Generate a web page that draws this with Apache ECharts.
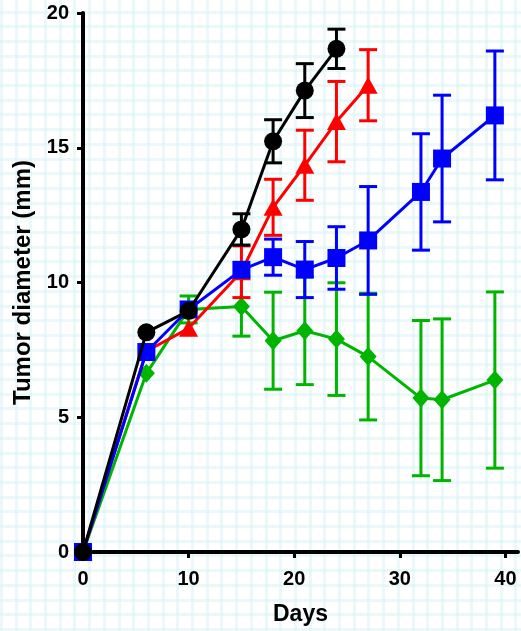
<!DOCTYPE html>
<html>
<head>
<meta charset="utf-8">
<script src="https://cdn.jsdelivr.net/npm/echarts@6/dist/echarts.min.js"></script>
<style>
  html, body {
    margin: 0;
    padding: 0;
    background-color: #fff;
    background-image:
      repeating-linear-gradient(0deg, rgba(214, 242, 246, 0.5) 0 3px, transparent 3px 14.7px),
      repeating-linear-gradient(90deg, rgba(214, 242, 246, 0.5) 0 3px, transparent 3px 14.7px);
  }
  #chart { width: 521px; height: 631px; }
</style>
</head>
<body>
<div id="chart"></div>
<script>
// 天数 / 均值 / 误差
const blackDays = [0, 6, 10, 15, 18, 21, 24];
const blackMean = [0, 8.15, 8.95, 11.97, 15.24, 17.12, 18.67];
const blackErr = [0, 0, 0, 0.58, 0.8, 1.0, 0.73];

const redDays = [0, 6, 10, 15, 18, 21, 24, 27];
const redMean = [0, 7.45, 8.3, 10.4, 12.79, 14.35, 15.97, 17.32];
const redErr = [0, 0, 0, 0.96, 1.04, 1.3, 1.49, 1.32];

const blueDays = [0, 6, 10, 15, 18, 21, 24, 27, 32, 34, 39];
const blueMean = [0, 7.42, 9.0, 10.47, 10.94, 10.48, 10.91, 11.56, 13.36, 14.6, 16.2];
const blueErr = [0, 0, 0, 0, 0.67, 1.04, 1.16, 2.0, 2.16, 2.35, 2.39];

const greenDays = [0, 6, 10, 15, 18, 21, 24, 27, 32, 34, 39];
const greenMean = [0, 6.63, 9.0, 9.11, 7.84, 8.21, 7.9, 7.25, 5.71, 5.65, 6.38];
const greenErr = [0, 0, 0.5, 1.1, 1.8, 2.0, 2.09, 2.35, 2.88, 3.0, 3.27];

const xTicks = [0, 10, 20, 30, 40];

const FONT = "'Liberation Sans', Arial, sans-serif";

const chart = echarts.init(document.getElementById("chart"));

// 误差线：竖线 + 上下横帽
function errorSeries(days, mean, err, color, z) {
  return {
    type: "custom",
    z: z,
    silent: true,
    clip: false,
    data: days
      .map((d, i) => [d, mean[i] - err[i], mean[i] + err[i]])
      .filter((item) => item[2] > item[1]),
    encode: { x: 0, y: [1, 2] },
    renderItem: function (params, api) {
      const low = api.coord([api.value(0), api.value(1)]);
      const high = api.coord([api.value(0), api.value(2)]);
      const half = 9;
      const style = { stroke: color, lineWidth: 3 };
      return {
        type: "group",
        children: [
          { type: "line", shape: { x1: low[0], y1: low[1], x2: high[0], y2: high[1] }, style: style },
          { type: "line", shape: { x1: low[0] - half, y1: low[1], x2: low[0] + half, y2: low[1] }, style: style },
          { type: "line", shape: { x1: high[0] - half, y1: high[1], x2: high[0] + half, y2: high[1] }, style: style },
        ],
      };
    },
  };
}

function lineSeries(days, mean, color, symbol, size, z) {
  return {
    type: "line",
    z: z,
    clip: false,
    data: days.map((d, i) => [d, mean[i]]),
    symbol: symbol,
    symbolSize: size,
    showSymbol: true,
    lineStyle: { color: color, width: 3 },
    itemStyle: { color: color, opacity: 1 },
    emphasis: { disabled: true },
    animation: false,
  };
}

const option = {
  animation: false,
  grid: {
    left: 83,
    top: 13,
    width: 435,
    height: 540,
  },
  xAxis: {
    type: "value",
    min: 0,
    max: 41.19,
    interval: 10,
    name: "Days",
    nameLocation: "middle",
    nameGap: 51,
    nameTextStyle: { color: "#000", fontSize: 23, fontWeight: "bold", fontFamily: FONT },
    axisLine: { show: true, onZero: false, lineStyle: { color: "#000", width: 4 } },
    axisTick: { show: true, length: 6, lineStyle: { color: "#000", width: 3 }, customValues: xTicks },
    axisLabel: {
      color: "#000",
      fontSize: 20,
      fontWeight: "bold",
      fontFamily: FONT,
      margin: 17,
      customValues: xTicks,
    },
    splitLine: { show: false },
  },
  yAxis: {
    type: "value",
    min: 0,
    max: 20,
    interval: 5,
    name: "Tumor diameter (mm)",
    nameLocation: "middle",
    nameGap: 42,
    nameTextStyle: { color: "#000", fontSize: 24, fontWeight: "bold", fontFamily: FONT },
    axisLine: { show: true, onZero: false, lineStyle: { color: "#000", width: 4 } },
    axisTick: { show: true, length: 6, lineStyle: { color: "#000", width: 3 } },
    axisLabel: {
      color: "#000",
      fontSize: 20,
      fontWeight: "bold",
      fontFamily: FONT,
      margin: 14,
    },
    splitLine: { show: false },
  },
  series: [
    errorSeries(greenDays, greenMean, greenErr, "#00b400", 2),
    lineSeries(greenDays, greenMean, "#00b400", "diamond", [17, 19], 3),
    errorSeries(redDays, redMean, redErr, "#ff0000", 4),
    lineSeries(redDays, redMean, "#ff0000", "triangle", [19, 17], 5),
    errorSeries(blueDays, blueMean, blueErr, "#0000ff", 6),
    lineSeries(blueDays, blueMean, "#0000ff", "rect", 18, 7),
    errorSeries(blackDays, blackMean, blackErr, "#000000", 8),
    lineSeries(blackDays, blackMean, "#000000", "circle", 18, 9),
  ],
};

chart.setOption(option);
</script>
</body>
</html>
